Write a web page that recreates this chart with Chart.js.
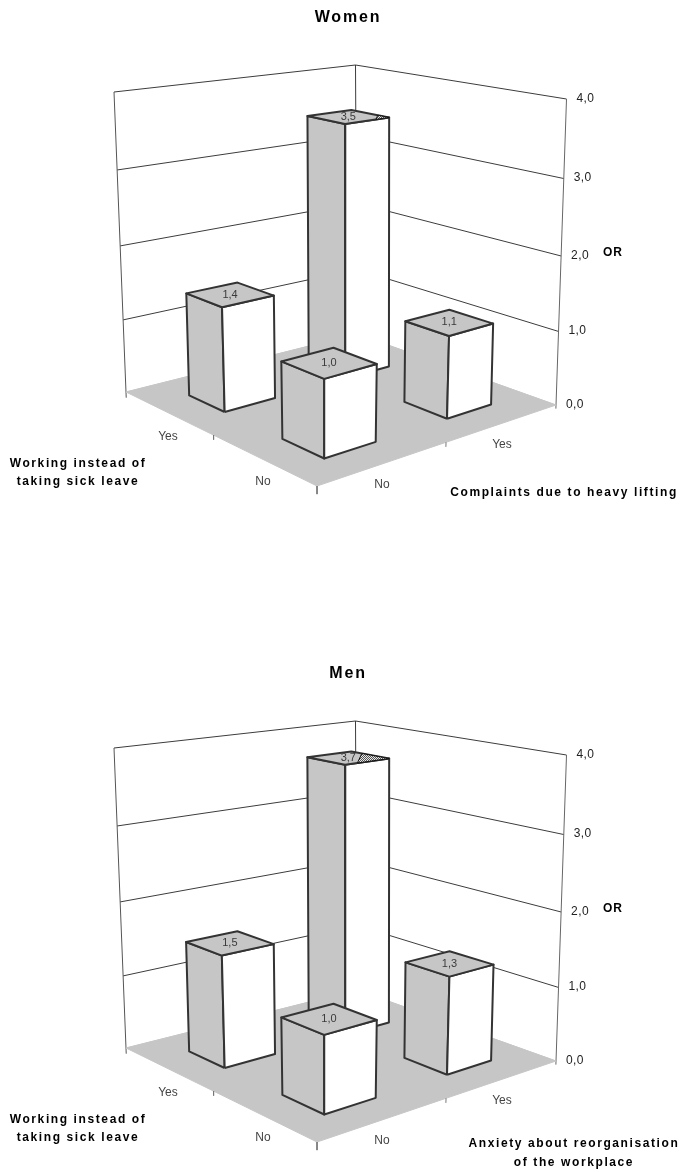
<!DOCTYPE html>
<html>
<head>
<meta charset="utf-8">
<title>Women and men OR charts</title>
<script src="https://cdn.jsdelivr.net/npm/chart.js@4"></script>
<style>
    html, body { margin: 0; padding: 0; background: #fff; }
    canvas { position: absolute; left: 0; }
    #women-chart { top: 0; }
    #men-chart { top: 656px; }
</style>
</head>
<body>
<canvas id="women-chart" width="681" height="656"></canvas>
<canvas id="men-chart" width="681" height="516"></canvas>
<script>
// Rows are "Working instead of taking sick leave", columns the other factor
const categories = ['No', 'Yes'];
const womenWorkingNo = [1.0, 1.1];
const womenWorkingYes = [1.4, 3.5];
const menWorkingNo = [1.0, 1.3];
const menWorkingYes = [1.5, 3.7];
const orTicks = [0, 1, 2, 3, 4];
const orTickLabels = ['0,0', '1,0', '2,0', '3,0', '4,0'];
const workingTitle = ['Working instead of', 'taking sick leave'];
const liftingTitle = ['Complaints due to heavy lifting'];
const anxietyTitle = ['Anxiety about reorganisation', 'of the workplace'];

const GREY = '#c6c6c6';
const EDGE = '#333333';
const WALL = '#3c3c3c';
const SANS = '"Liberation Sans", Arial, sans-serif';

// Corners of the floor and of the box top, as they sit on the page
const floorCorners = [[317, 486], [556, 405], [357, 334], [126, 392]];
const roofCorners = [[316, 143], [566.5, 99], [355.5, 65], [114, 92]];
const BAR_START = 0.11;
const BAR_END = 0.09;
const CENTRES = [0.25, 0.75];

function squareToQuad(q) {
    const [[x0, y0], [x1, y1], [x2, y2], [x3, y3]] = q;
    const dx1 = x1 - x2, dx2 = x3 - x2, sx = x0 - x1 + x2 - x3;
    const dy1 = y1 - y2, dy2 = y3 - y2, sy = y0 - y1 + y2 - y3;
    const den = dx1 * dy2 - dx2 * dy1;
    const g = (sx * dy2 - dx2 * sy) / den;
    const h = (dx1 * sy - sx * dy1) / den;
    const a = x1 - x0 + g * x1, b = x3 - x0 + h * x3;
    const d = y1 - y0 + g * y1, e = y3 - y0 + h * y3;
    return (u, v) => {
        const w = g * u + h * v + 1;
        return { x: (a * u + b * v + x0) / w, y: (d * u + e * v + y0) / w };
    };
}

const floorMap = squareToQuad(floorCorners);
const roofMap = squareToQuad(roofCorners);

// u runs along the right floor edge, v along the left one, z is the OR value
function project(u, v, z) {
    const t = 0.2373 * z / (1 - 0.0127 * z);
    const lo = floorMap(u, v);
    const hi = roofMap(u, v);
    return { x: lo.x + (hi.x - lo.x) * t, y: lo.y + (hi.y - lo.y) * t };
}

function hatchPattern() {
    const c = document.createElement('canvas');
    c.width = 2;
    c.height = 2;
    const g = c.getContext('2d');
    g.fillStyle = '#e8e8e8';
    g.fillRect(0, 0, 2, 2);
    g.fillStyle = '#555555';
    g.fillRect(0, 0, 1, 1);
    g.fillRect(1, 1, 1, 1);
    return g.createPattern(c, 'repeat');
}

function shape(points, fill, stroke, width, extra) {
    return Object.assign({
        data: points,
        showLine: true,
        pointRadius: 0,
        tension: 0,
        fill: fill ? 'shape' : false,
        backgroundColor: fill || 'transparent',
        borderColor: stroke || 'transparent',
        borderWidth: width || 0,
        borderJoinStyle: 'round'
    }, extra);
}

function line(a, b, colour, width) {
    return shape([a, b], null, colour, width);
}

function addBar(list, row, col, value, hatch) {
    const u0 = CENTRES[col] - BAR_START, u1 = CENTRES[col] + BAR_END;
    const v0 = CENTRES[row] - BAR_START, v1 = CENTRES[row] + BAR_END;
    const frontBase = project(u0, v0, 0), frontTop = project(u0, v0, value);
    const leftBase = project(u0, v1, 0), leftTop = project(u0, v1, value);
    const rightBase = project(u1, v0, 0), rightTop = project(u1, v0, value);
    const backTop = project(u1, v1, value);
    list.push(shape([frontBase, leftBase, leftTop, frontTop, frontBase], GREY, EDGE, 2));
    list.push(shape([frontBase, rightBase, rightTop, frontTop, frontBase], '#ffffff', EDGE, 2));
    list.push(shape([frontTop, leftTop, backTop, rightTop, frontTop], GREY, EDGE, 2, {
        topLabel: value.toFixed(1).replace('.', ','),
        labelAt: project((u0 + u1) / 2, (v0 + v1) / 2, value)
    }));
    if (hatch) {
        const mix = (a, b) => ({ x: a.x + (b.x - a.x) * hatch, y: a.y + (b.y - a.y) * hatch });
        list.push(shape([rightTop, mix(rightTop, backTop), mix(rightTop, frontTop), rightTop], hatchPattern(), '#111111', 1));
    }
}

function buildDatasets(workingNo, workingYes, hatch) {
    const list = [];

    // back walls and grid lines
    orTicks.forEach((z) => {
        const colour = z === 0 ? GREY : WALL;
        list.push(shape([project(0, 1, z), project(1, 1, z), project(1, 0, z)], null, colour, 1));
    });
    list.push(line(project(0, 1, -0.08), project(0, 1, 4), '#555555', 1));
    list.push(line(project(1, 1, 0), project(1, 1, 4), WALL, 1));
    list.push(line(project(1, 0, -0.05), project(1, 0, 4), '#666666', 1));

    // floor and the small ticks under it
    list.push(shape([project(0, 0, 0), project(1, 0, 0), project(1, 1, 0), project(0, 1, 0), project(0, 0, 0)], GREY, GREY, 1));
    list.push(line(project(0, 0, 0), project(0, 0, -0.1), '#777777', 1));
    list.push(line(project(0.5, 0, 0), project(0.5, 0, -0.06), '#777777', 1));
    list.push(line(project(0, 0.5, 0), project(0, 0.5, -0.06), '#777777', 1));

    // painted from the back corner to the front one
    addBar(list, 1, 1, workingYes[1], hatch);
    addBar(list, 1, 0, workingYes[0]);
    addBar(list, 0, 1, workingNo[1]);
    addBar(list, 0, 0, workingNo[0]);

    return list;
}

function drawText(ctx, scales, text, x, y, font, colour, align, spacing) {
    ctx.font = font;
    ctx.fillStyle = colour;
    ctx.textAlign = align || 'center';
    ctx.textBaseline = 'middle';
    ctx.letterSpacing = spacing || '0px';
    ctx.fillText(text, scales.x.getPixelForValue(x), scales.y.getPixelForValue(y));
    ctx.letterSpacing = '0px';
}

// Value printed on top of a bar, so that the hatch of the same bar can cover it
const barLabels = {
    id: 'barLabels',
    afterDatasetDraw(chart, args) {
        const ds = chart.data.datasets[args.index];
        if (!ds.topLabel) return;
        drawText(chart.ctx, chart.scales, ds.topLabel, ds.labelAt.x, ds.labelAt.y, `11px ${SANS}`, '#3a3a3a');
    }
};

const panelText = {
    id: 'panelText',
    afterDraw(chart) {
        const ctx = chart.ctx;
        const scales = chart.scales;
        const opts = chart.options.plugins.panelText;
        const bold = `bold 12px ${SANS}`;
        const tickFont = `12px ${SANS}`;

        drawText(ctx, scales, opts.title, 348, 18, `bold 16px ${SANS}`, '#000', 'center', '1.8px');

        orTicks.forEach((z, i) => {
            const p = project(1, 0, z);
            drawText(ctx, scales, orTickLabels[i], p.x + 10, p.y - 0.5, tickFont, '#222', 'left', '0.4px');
        });
        drawText(ctx, scales, 'OR', 603, 253, bold, '#000', 'left', '0.8px');

        drawText(ctx, scales, categories[1], 168, 437, tickFont, '#444');
        drawText(ctx, scales, categories[0], 263, 482, tickFont, '#444');
        drawText(ctx, scales, categories[0], 382, 485, tickFont, '#444');
        drawText(ctx, scales, categories[1], 502, 445, tickFont, '#444');

        workingTitle.forEach((t, i) => {
            drawText(ctx, scales, t, 78, 464 + i * 18, bold, '#000', 'center', '1.6px');
        });
        opts.rightTitle.forEach((t, i) => {
            drawText(ctx, scales, t, opts.rightX, opts.rightY + i * 19, bold, '#000', 'center', '1.6px');
        });
    }
};

function makeChart(id, datasets, text) {
    const canvas = document.getElementById(id);
    return new Chart(canvas.getContext('2d'), {
        type: 'scatter',
        // first dataset in the list ends up on top, so hand them over reversed
        data: { datasets: datasets.reverse() },
        plugins: [barLabels, panelText],
        options: {
            responsive: false,
            animation: false,
            layout: { padding: 0 },
            scales: {
                x: { type: 'linear', display: false, min: 0, max: canvas.width },
                y: { type: 'linear', display: false, min: 0, max: canvas.height, reverse: true }
            },
            plugins: {
                legend: { display: false },
                tooltip: { enabled: false },
                panelText: text
            }
        }
    });
}

makeChart('women-chart', buildDatasets(womenWorkingNo, womenWorkingYes, 0.3), {
    title: 'Women', rightTitle: liftingTitle, rightX: 564, rightY: 493
});
makeChart('men-chart', buildDatasets(menWorkingNo, menWorkingYes, 0.72), {
    title: 'Men', rightTitle: anxietyTitle, rightX: 574, rightY: 488
});
</script>
</body>
</html>
